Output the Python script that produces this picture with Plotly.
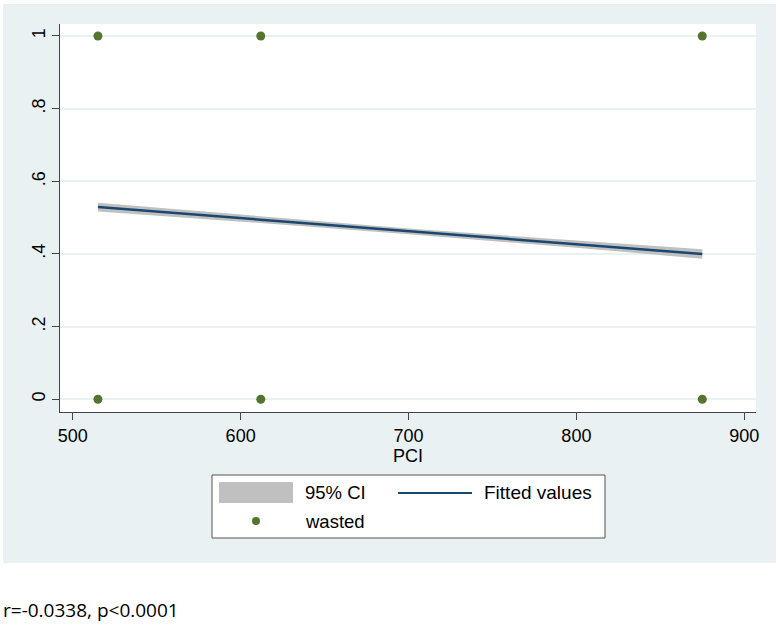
import plotly.graph_objects as go

# Data
pci = [515, 612, 875, 515, 612, 875]
wasted = [1, 1, 1, 0, 0, 0]

fit_x = [515, 612, 700, 800, 875]
fit_y = [0.529, 0.494, 0.462, 0.427, 0.400]
ci_lo = [0.517, 0.485, 0.454, 0.417, 0.387]
ci_hi = [0.541, 0.503, 0.470, 0.437, 0.413]

x_ticks = [500, 600, 700, 800, 900]
y_ticks = [0, 0.2, 0.4, 0.6, 0.8, 1]
y_ticktext = ["0", ".2", ".4", ".6", ".8", "1"]

PANEL = "#EAF1F3"
NAVY = "#1A476F"
GREEN = "#55752F"
CIGRAY = "#C0C0C0"
FONT = "Liberation Sans, Arial, sans-serif"

fig = go.Figure()
fig.add_trace(go.Scatter(x=fit_x + fit_x[::-1], y=ci_hi + ci_lo[::-1], fill="toself",
                         fillcolor=CIGRAY, line=dict(width=0), mode="lines",
                         name="95% CI", hoverinfo="skip", showlegend=False))
fig.add_trace(go.Scatter(x=fit_x, y=fit_y, mode="lines", line=dict(color=NAVY, width=2.5),
                         name="Fitted values", showlegend=False))
fig.add_trace(go.Scatter(x=pci, y=wasted, mode="markers",
                         marker=dict(color=GREEN, size=9), name="wasted", showlegend=False))

W, H = 780, 627
L, R, T, B = 60, 24, 24, 215
pw, ph = W - L - R, H - T - B

def px(xp):
    return (xp - L) / pw

def py(yp):
    return (H - B - yp) / ph

shapes = []
# white strip at bottom and thin borders around the panel
shapes.append(dict(type="rect", xref="paper", yref="paper", x0=px(0), x1=px(W), y0=py(H), y1=py(563),
                   fillcolor="white", line=dict(width=0), layer="below"))
shapes.append(dict(type="rect", xref="paper", yref="paper", x0=px(0), x1=px(3), y0=py(H), y1=py(0),
                   fillcolor="white", line=dict(width=0), layer="below"))
shapes.append(dict(type="rect", xref="paper", yref="paper", x0=px(776), x1=px(W), y0=py(H), y1=py(0),
                   fillcolor="white", line=dict(width=0), layer="below"))
shapes.append(dict(type="rect", xref="paper", yref="paper", x0=px(0), x1=px(W), y0=py(4), y1=py(0),
                   fillcolor="white", line=dict(width=0), layer="below"))
# legend box
shapes.append(dict(type="rect", xref="paper", yref="paper", x0=px(212), x1=px(605), y0=py(538), y1=py(475),
                   fillcolor="white", line=dict(color="#555555", width=1)))
shapes.append(dict(type="rect", xref="paper", yref="paper", x0=px(219), x1=px(293), y0=py(503), y1=py(482),
                   fillcolor=CIGRAY, line=dict(width=0)))
shapes.append(dict(type="line", xref="paper", yref="paper", x0=px(398), x1=px(472), y0=py(493), y1=py(493),
                   line=dict(color=NAVY, width=2)))
shapes.append(dict(type="circle", xref="paper", yref="paper", x0=px(252), x1=px(260), y0=py(525), y1=py(517),
                   fillcolor=GREEN, line=dict(width=0)))

annotations = [
    dict(text="95% CI", xref="paper", yref="paper", x=px(303), y=py(493), xanchor="left", yanchor="middle",
         showarrow=False, font=dict(family=FONT, size=18.5, color="black")),
    dict(text="Fitted values", xref="paper", yref="paper", x=px(482), y=py(493), xanchor="left", yanchor="middle",
         showarrow=False, font=dict(family=FONT, size=19, color="black")),
    dict(text="wasted", xref="paper", yref="paper", x=px(303), y=py(521), xanchor="left", yanchor="middle",
         showarrow=False, font=dict(family=FONT, size=18.5, color="black")),
    dict(text="r=-0.0338, p<0.0001", xref="paper", yref="paper", x=px(1), y=py(610), xanchor="left",
         yanchor="middle", showarrow=False, font=dict(family="Open Sans", size=19, color="black")),
]

fig.update_layout(
    width=W, height=H,
    margin=dict(l=L, r=R, t=T, b=B, pad=0),
    paper_bgcolor=PANEL, plot_bgcolor="white",
    showlegend=False,
    shapes=shapes, annotations=annotations,
    font=dict(family=FONT, size=18, color="black"),
)
fig.update_xaxes(range=[492.4, 907], tickvals=x_ticks, showgrid=False, zeroline=False,
                 showline=True, linecolor="#444444", linewidth=1, ticks="outside", ticklen=7,
                 tickcolor="#444444", tickfont=dict(size=18),
                 title=dict(text="PCI", font=dict(size=18), standoff=2))
fig.update_yaxes(range=[-0.035, 1.033], tickvals=y_ticks, ticktext=y_ticktext, tickangle=-90,
                 showgrid=True, gridcolor=PANEL, gridwidth=1.5, zeroline=False,
                 showline=True, linecolor="#444444", linewidth=1, ticks="outside", ticklen=7,
                 tickcolor="#444444", tickfont=dict(size=18))

fig.write_html("out.html", config={"displayModeBar": False},
               post_script="document.body.style.margin='0';")
